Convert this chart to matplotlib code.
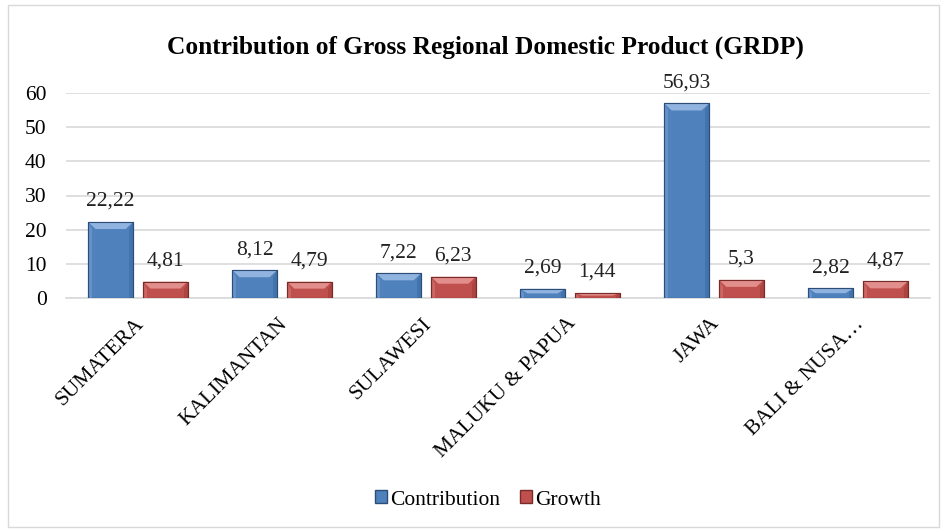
import matplotlib
matplotlib.use("Agg")
import matplotlib.pyplot as plt
import matplotlib.transforms as mtransforms
import numpy as np
from matplotlib.patches import Polygon, Rectangle

categories = ["SUMATERA", "KALIMANTAN", "SULAWESI", "MALUKU & PAPUA", "JAWA", "BALI & NUSA\u2026"]
contribution = [22.22, 8.12, 7.22, 2.69, 56.93, 2.82]
growth = [4.81, 4.79, 6.23, 1.44, 5.3, 4.87]
contribution_labels = ["22,22", "8,12", "7,22", "2,69", "56,93", "2,82"]
growth_labels = ["4,81", "4,79", "6,23", "1,44", "5,3", "4,87"]
yticks = [0, 10, 20, 30, 40, 50, 60]

plt.rcParams['font.family'] = ['Liberation Serif', 'DejaVu Serif']

BLUE = "#4F81BD"
RED = "#C0504D"
FS = 15.5

fig = plt.figure(figsize=(9.47, 5.32), dpi=100)
ax = fig.add_axes([66/947, 1-298/532, (930-66)/947, (298-93)/532])

x = np.arange(len(categories))
w = 0.31
gap = 0.07
b1 = ax.bar(x - (w+gap)/2, contribution, w, color=BLUE, edgecolor="#2C4D75", linewidth=0.8, zorder=3)
b2 = ax.bar(x + (w+gap)/2, growth, w, color=RED, edgecolor="#772C2A", linewidth=0.8, zorder=3)

# bevel effect derived from the bars' geometry
fig.canvas.draw()
def bevel(bars, light, dark):
    inv = ax.transData.inverted()
    for b in bars:
        x0, y0 = b.get_x(), b.get_y()
        bw, bh = b.get_width(), b.get_height()
        p0 = ax.transData.transform((x0, y0))
        px = 7
        dxd = inv.transform((p0[0] + px, p0[1]))[0] - x0
        dyd = y0 - inv.transform((p0[0], p0[1] - px))[1]
        dyd = min(dyd, bh/2)
        dxd2 = min(dxd, bw/2)
        top = Polygon([(x0, y0+bh), (x0+bw, y0+bh), (x0+bw-dxd2, y0+bh-dyd), (x0+dxd2, y0+bh-dyd)],
                      closed=True, facecolor=light, edgecolor='none', zorder=4, alpha=0.85)
        right = Polygon([(x0+bw, y0+bh), (x0+bw, y0), (x0+bw-dxd2*0.5, y0), (x0+bw-dxd2*0.5, y0+bh-dyd)],
                        closed=True, facecolor=dark, edgecolor='none', zorder=4, alpha=0.35)
        left = Polygon([(x0, y0+bh), (x0, y0), (x0+dxd2*0.5, y0), (x0+dxd2*0.5, y0+bh-dyd)],
                       closed=True, facecolor=light, edgecolor='none', zorder=4, alpha=0.3)
        for p in (top, right, left):
            ax.add_patch(p)
        ax.add_patch(Rectangle((x0, y0), bw, bh, facecolor='none', edgecolor=b.get_edgecolor(), linewidth=0.8, zorder=5))

bevel(b1, "#9DBCE6", "#2E5A8E")
bevel(b2, "#E89A98", "#8A2E2B")

for bars, labels in ((b1, contribution_labels), (b2, growth_labels)):
    for b, lab in zip(bars, labels):
        ax.annotate(lab, (b.get_x() + b.get_width()/2, b.get_height()),
                    xytext=(0, 8), textcoords="offset points", ha="center", va="bottom",
                    fontsize=FS, color="#222222", clip_on=False, zorder=6)

ax.set_ylim(0, 60)
ax.set_xlim(-0.5, len(categories) - 0.5)
ax.set_yticks(yticks)
ax.set_yticklabels([str(t) for t in yticks], fontsize=FS)
ax.set_xticks(x)
ax.set_xticklabels(categories, rotation=45, ha="right", rotation_mode="anchor", fontsize=FS)
ax.tick_params(axis='y', length=0, pad=14)
ax.tick_params(axis='x', length=0, pad=6)
offset = mtransforms.ScaledTranslation(-4/100, -8/100, fig.dpi_scale_trans)
for lab in ax.get_xticklabels():
    lab.set_transform(lab.get_transform() + offset)
ax.yaxis.grid(True, color="#D9D9D9", linewidth=1.2, zorder=0)
ax.set_axisbelow(True)
for s in ("top", "right", "left"):
    ax.spines[s].set_visible(False)
ax.spines["bottom"].set_color("#D9D9D9")
ax.spines["bottom"].set_linewidth(1.2)

fig.text(485/947, 1-47/532, "Contribution of Gross Regional Domestic Product (GRDP)",
         ha="center", va="center", fontsize=18.3, fontweight="bold")

handles = [Rectangle((0, 0), 1, 1, facecolor=BLUE, edgecolor="#2C4D75"),
           Rectangle((0, 0), 1, 1, facecolor=RED, edgecolor="#772C2A")]
fig.legend(handles, ["Contribution", "Growth"], loc="center", bbox_to_anchor=(488/947, 1-500/532),
           ncol=2, frameon=False, fontsize=FS, handlelength=0.55, handleheight=0.55,
           handletextpad=0.15, columnspacing=0.9)

fig.patches.append(Rectangle((8/947, 5/532), 1-16/947, 1-10/532, transform=fig.transFigure,
                             fill=False, edgecolor="#D9D9D9", linewidth=1.0))

fig.savefig("out.png", dpi=100)
